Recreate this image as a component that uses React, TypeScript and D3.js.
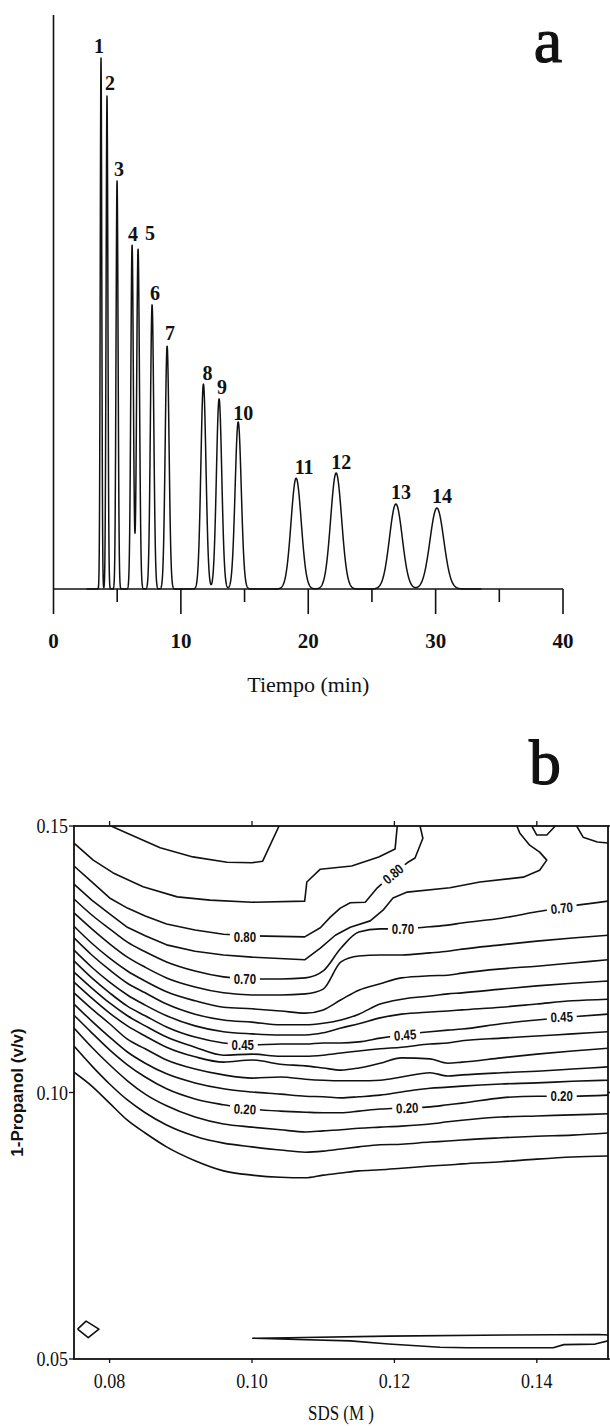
import React from "react";
import * as d3 from "d3";

const WIDTH = 610;
const HEIGHT = 1426;

// ---------- Panel a: chromatogram ----------
const peakIds = ["1", "2", "3", "4", "5", "6", "7", "8", "9", "10", "11", "12", "13", "14"];
const retentionMin = [3.73, 4.2, 4.99, 6.17, 6.64, 7.74, 8.92, 11.77, 13.0, 14.5, 19.05, 22.19, 26.88, 30.1];
const peakHeight = [92.5, 85.9, 71.1, 59.9, 59.2, 49.5, 42.3, 35.7, 33.1, 29.1, 19.3, 20.2, 14.8, 14.1];
const peakSigmaMin = [0.06, 0.07, 0.08, 0.1, 0.11, 0.13, 0.15, 0.2, 0.21, 0.24, 0.4, 0.43, 0.5, 0.54];
const timeMajorTicks = [0, 10, 20, 30, 40];
const timeMinorTicks = [5, 15, 25, 35];

// label nudges (px) from each apex
const peakLabelDx = [-2, 3, 2, 1, 12, 3, 3, 4, 3, 5, 8, 5, 5, 5];
const peakLabelDy = [5, 6, 5, 4, 9, 5, 6, 4, 5, 2, 4, 4, 5, 5];

// ---------- Panel b: resolution contour map ----------
const sdsTicks = [0.08, 0.1, 0.12, 0.14];
const propanolTicks = [0.05, 0.1, 0.15];

// SDS positions shared by the iso-lines that run across the whole map
const sdsGrid = [0.075, 0.0775, 0.08, 0.0825, 0.085, 0.088, 0.092, 0.096, 0.1, 0.104, 0.1075, 0.11, 0.1125, 0.115, 0.118, 0.121, 0.125, 0.1275, 0.1295, 0.135, 0.14, 0.145, 0.15];

// propanol (v/v) of each iso-line at the sdsGrid positions
const iso070 = [0.1363, 0.1333, 0.1307, 0.1282, 0.1264, 0.1245, 0.1228, 0.1217, 0.1213, 0.1213, 0.1215, 0.1228, 0.1271, 0.1301, 0.1307, 0.1307, 0.1311, 0.1314, 0.1318, 0.1327, 0.1339, 0.135, 0.1359];
const iso065 = [0.1337, 0.1307, 0.1279, 0.1254, 0.1235, 0.1215, 0.1198, 0.1187, 0.1183, 0.1183, 0.1185, 0.1194, 0.1245, 0.1256, 0.1258, 0.1258, 0.1262, 0.1265, 0.1269, 0.1277, 0.1284, 0.129, 0.1295];
const iso060 = [0.1312, 0.128, 0.1252, 0.1228, 0.1209, 0.1189, 0.1172, 0.116, 0.1157, 0.1153, 0.1149, 0.1155, 0.1174, 0.1192, 0.1204, 0.1215, 0.1219, 0.122, 0.1224, 0.1232, 0.1237, 0.1243, 0.1249];
const iso055 = [0.129, 0.1258, 0.123, 0.1205, 0.1187, 0.1166, 0.1147, 0.1136, 0.1132, 0.1127, 0.1127, 0.113, 0.1136, 0.1147, 0.1166, 0.1175, 0.1181, 0.1185, 0.1187, 0.1194, 0.12, 0.1205, 0.1209];
const iso050 = [0.1267, 0.1235, 0.1207, 0.1183, 0.1164, 0.1144, 0.1125, 0.1114, 0.111, 0.1108, 0.1108, 0.1112, 0.1121, 0.1129, 0.114, 0.1147, 0.1151, 0.1153, 0.1155, 0.116, 0.1166, 0.1172, 0.1175];
const iso045 = [0.1247, 0.1215, 0.1187, 0.1162, 0.1144, 0.1123, 0.1104, 0.1093, 0.1089, 0.1091, 0.1091, 0.1093, 0.1093, 0.1095, 0.1102, 0.1108, 0.1114, 0.1117, 0.1119, 0.1129, 0.1136, 0.1142, 0.1147];
const iso040 = [0.1226, 0.1196, 0.1168, 0.1144, 0.1125, 0.1104, 0.1085, 0.107, 0.1072, 0.1068, 0.1068, 0.107, 0.1074, 0.1078, 0.1082, 0.1085, 0.1091, 0.1093, 0.1097, 0.1102, 0.1106, 0.111, 0.1114];
const iso035 = [0.1207, 0.1177, 0.1149, 0.1125, 0.1106, 0.1085, 0.1067, 0.1057, 0.1061, 0.1053, 0.105, 0.1046, 0.1042, 0.1046, 0.1055, 0.1065, 0.1063, 0.1055, 0.1057, 0.1065, 0.1072, 0.1078, 0.1083];
const iso030 = [0.1187, 0.1157, 0.1129, 0.11, 0.1082, 0.1061, 0.1044, 0.1033, 0.1027, 0.1029, 0.1025, 0.1023, 0.1022, 0.1022, 0.1023, 0.1029, 0.1037, 0.1031, 0.1033, 0.1037, 0.104, 0.1044, 0.1048];
const iso025 = [0.1166, 0.1134, 0.1104, 0.1076, 0.1055, 0.1035, 0.1018, 0.1007, 0.1001, 0.0997, 0.0993, 0.0992, 0.099, 0.0992, 0.0995, 0.1001, 0.1008, 0.101, 0.1012, 0.1016, 0.1018, 0.1021, 0.1023];
const iso020 = [0.1145, 0.1112, 0.108, 0.1052, 0.1029, 0.1007, 0.0988, 0.0977, 0.0969, 0.0965, 0.0963, 0.0962, 0.0962, 0.0965, 0.0969, 0.0971, 0.0973, 0.0977, 0.098, 0.099, 0.0993, 0.0993, 0.0995];
const iso015 = [0.1121, 0.1085, 0.1052, 0.1022, 0.0997, 0.0975, 0.0954, 0.0941, 0.0935, 0.093, 0.0926, 0.0928, 0.093, 0.0933, 0.0935, 0.0937, 0.0941, 0.0945, 0.0948, 0.0954, 0.0956, 0.0958, 0.096];
const iso010 = [0.1087, 0.105, 0.1016, 0.0986, 0.0962, 0.0939, 0.0918, 0.0905, 0.0898, 0.0892, 0.0888, 0.089, 0.0894, 0.0898, 0.0902, 0.0903, 0.0907, 0.0909, 0.0911, 0.0915, 0.0918, 0.092, 0.0924];
const iso005 = [0.1038, 0.1012, 0.098, 0.0948, 0.0924, 0.0898, 0.0872, 0.0853, 0.0845, 0.0841, 0.084, 0.0845, 0.0849, 0.0853, 0.0855, 0.0858, 0.0862, 0.0864, 0.0866, 0.087, 0.0875, 0.0879, 0.0881];

// iso-lines that bend back to the top edge: [SDS, propanol] vertices
const iso090 = [[0.0802, 0.15], [0.0824, 0.1487], [0.0871, 0.1459], [0.0917, 0.1442], [0.0965, 0.1432], [0.1, 0.1431], [0.1015, 0.1434], [0.1038, 0.15]];
const iso085 = [[0.075, 0.1468], [0.0777, 0.1436], [0.0805, 0.1412], [0.0847, 0.1386], [0.0895, 0.1367], [0.0941, 0.1361], [0.1, 0.1357], [0.1074, 0.1359], [0.1077, 0.1395], [0.1096, 0.1419], [0.114, 0.1425], [0.1178, 0.1442], [0.1201, 0.1457], [0.1204, 0.15]];
const iso080 = [[0.075, 0.1425], [0.0775, 0.1395], [0.08, 0.1365], [0.0825, 0.1346], [0.085, 0.1331], [0.088, 0.1316], [0.092, 0.1305], [0.096, 0.1297], [0.1, 0.1294], [0.1074, 0.1292], [0.1096, 0.1309], [0.111, 0.1329], [0.1124, 0.1346], [0.1138, 0.1356], [0.1159, 0.1357], [0.1176, 0.1384], [0.1198, 0.141], [0.1218, 0.1431], [0.1229, 0.144], [0.124, 0.1477], [0.1236, 0.15]];
const iso075 = [[0.075, 0.1391], [0.0775, 0.1361], [0.08, 0.1335], [0.0825, 0.131], [0.085, 0.1294], [0.088, 0.1277], [0.092, 0.1265], [0.096, 0.1258], [0.1, 0.1254], [0.1074, 0.1249], [0.1096, 0.1271], [0.1117, 0.1295], [0.1138, 0.131], [0.1166, 0.1322], [0.1184, 0.1342], [0.1198, 0.1365], [0.1218, 0.1376], [0.1278, 0.1384], [0.132, 0.1395], [0.1381, 0.1404], [0.1404, 0.1417], [0.1414, 0.1436], [0.1404, 0.1451], [0.139, 0.1464], [0.1376, 0.1487], [0.1372, 0.15]];
const iso075Notch = [[0.1393, 0.15], [0.14, 0.1483], [0.1414, 0.1483], [0.1426, 0.15]];
const iso075Corner = [[0.1456, 0.15], [0.1465, 0.1479], [0.1485, 0.147], [0.15, 0.1468]];
const islandLeft = [[0.0755, 0.0556], [0.0767, 0.0571], [0.0785, 0.0556], [0.077, 0.054], [0.0755, 0.0556]];
const islandBottom = [[0.15, 0.0545], [0.1487, 0.0546], [0.1357, 0.0545], [0.1192, 0.0543], [0.1051, 0.054], [0.1001, 0.0539], [0.1051, 0.0537], [0.1138, 0.0534], [0.1192, 0.0528], [0.1264, 0.0522], [0.1302, 0.0521], [0.1423, 0.0521], [0.1438, 0.0527], [0.1482, 0.0528], [0.15, 0.0534]];

// in-line level labels
const labelLevel = [0.8, 0.8, 0.7, 0.7, 0.7, 0.45, 0.45, 0.45, 0.2, 0.2, 0.2];
const labelSds = [0.099, 0.1198, 0.099, 0.1212, 0.1435, 0.0987, 0.1215, 0.1435, 0.099, 0.1218, 0.1435];
const labelPropanol = [0.1292, 0.141, 0.1213, 0.1307, 0.1346, 0.1089, 0.1108, 0.1142, 0.0969, 0.0971, 0.0993];
const labelAngle = [0, -40, 0, 0, -6, 0, -4, -2, 3, -3, 0];

const SERIF = "'Liberation Serif', 'Times New Roman', serif";
const SANS = "'Liberation Sans', Arial, sans-serif";

export default function App() {
  // ----- panel a scales -----
  const xA = d3.scaleLinear().domain([0, 40]).range([53.5, 563]);
  const yA = d3.scaleLinear().domain([0, 100]).range([589, 15]);

  const traceTimes = d3.range(2.6, 33.6, 0.01);
  const trace: [number, number][] = traceTimes.map((t) => [
    t,
    d3.sum(retentionMin, (tr, i) => peakHeight[i] * Math.exp(-0.5 * ((t - tr) / peakSigmaMin[i]) ** 2)),
  ]);
  const tracePath = d3
    .line<[number, number]>()
    .x((d) => xA(d[0]))
    .y((d) => yA(d[1]))(trace) as string;

  // ----- panel b scales -----
  const xB = d3.scaleLinear().domain([0.075, 0.15]).range([74, 608]);
  const yB = d3.scaleLinear().domain([0.05, 0.15]).range([1359, 826]);

  const gridLines = [iso070, iso065, iso060, iso055, iso050, iso045, iso040, iso035, iso030, iso025, iso020, iso015, iso010, iso005];
  const gridLine = d3
    .line<number>()
    .x((_, i) => xB(sdsGrid[i]))
    .y((d) => yB(d))
    .curve(d3.curveMonotoneX);
  const freeLine = d3
    .line<number[]>()
    .x((d) => xB(d[0]))
    .y((d) => yB(d[1]))
    .curve(d3.curveLinear);
  const freeLines = [iso090, iso085, iso080, iso075, iso075Notch, iso075Corner, islandLeft, islandBottom];

  const [bx0, bx1] = xB.range();
  const [by0, by1] = yB.range();

  return (
    <div style={{ position: "absolute", left: 0, top: 0 }}>
      <svg width={WIDTH} height={HEIGHT} viewBox={`0 0 ${WIDTH} ${HEIGHT}`} style={{ display: "block", background: "#fff" }}>
        <rect x={0} y={0} width={WIDTH} height={HEIGHT} fill="#fff" />

        {/* ================= panel a ================= */}
        <text x={548} y={62} textAnchor="middle" fontFamily={SERIF} fontSize={64} fill="#111" stroke="#111" strokeWidth={1.2}>
          a
        </text>

        {/* axes */}
        <line x1={xA(0)} x2={xA(0)} y1={yA(100)} y2={yA(0)} stroke="#111" strokeWidth={1.6} />
        <line x1={xA(0)} x2={xA(40)} y1={yA(0)} y2={yA(0)} stroke="#111" strokeWidth={1.6} />
        {timeMajorTicks.map((t) => (
          <line key={"M" + t} x1={xA(t)} x2={xA(t)} y1={yA(0)} y2={yA(0) + 25} stroke="#111" strokeWidth={1.6} />
        ))}
        {timeMinorTicks.map((t) => (
          <line key={"m" + t} x1={xA(t)} x2={xA(t)} y1={yA(0)} y2={yA(0) + 13} stroke="#111" strokeWidth={1.6} />
        ))}
        {timeMajorTicks.map((t) => (
          <text key={"L" + t} x={xA(t)} y={648} textAnchor="middle" fontFamily={SERIF} fontWeight="bold" fontSize={21} fill="#111">
            {t}
          </text>
        ))}
        <text x={(xA(0) + xA(40)) / 2} y={692} textAnchor="middle" fontFamily={SERIF} fontSize={22} fill="#111">
          Tiempo (min)
        </text>

        {/* signal */}
        <path d={tracePath} fill="none" stroke="#111" strokeWidth={1.5} strokeLinejoin="round" />
        {peakIds.map((id, i) => (
          <text
            key={"p" + id}
            x={xA(retentionMin[i]) + peakLabelDx[i]}
            y={yA(peakHeight[i]) - peakLabelDy[i]}
            textAnchor="middle"
            fontFamily={SERIF}
            fontWeight="bold"
            fontSize={20}
            fill="#111"
          >
            {id}
          </text>
        ))}

        {/* ================= panel b ================= */}
        <text x={545} y={784} textAnchor="middle" fontFamily={SERIF} fontSize={64} fill="#111" stroke="#111" strokeWidth={1.2}>
          b
        </text>

        <defs>
          <clipPath id="mapClip">
            <rect x={bx0} y={by1} width={bx1 - bx0} height={by0 - by1} />
          </clipPath>
        </defs>

        <g clipPath="url(#mapClip)" fill="none" stroke="#111" strokeWidth={1.6} strokeLinejoin="round">
          {gridLines.map((vals, i) => (
            <path key={"g" + i} d={gridLine(vals) as string} />
          ))}
          {freeLines.map((pts, i) => (
            <path key={"f" + i} d={freeLine(pts) as string} />
          ))}
        </g>

        {/* level labels */}
        {labelLevel.map((lv, i) => (
          <g key={"lb" + i} transform={`translate(${xB(labelSds[i])},${yB(labelPropanol[i])}) rotate(${labelAngle[i]})`}>
            <rect x={-15} y={-6.5} width={30} height={13} fill="#fff" />
            <text
              transform="scale(0.82,1)"
              y={5}
              textAnchor="middle"
              fontFamily={SANS}
              fontWeight="bold"
              fontSize={14}
              fill="#111"
            >
              {lv.toFixed(2)}
            </text>
          </g>
        ))}

        {/* frame */}
        <rect x={bx0} y={by1} width={bx1 - bx0} height={by0 - by1} fill="none" stroke="#111" strokeWidth={1.8} />
        {sdsTicks.map((s) => (
          <g key={"st" + s}>
            <line x1={xB(s)} x2={xB(s)} y1={by1} y2={by1 - 5} stroke="#111" strokeWidth={1.3} />
            <line x1={xB(s)} x2={xB(s)} y1={by0} y2={by0 + 4} stroke="#111" strokeWidth={1.3} />
            <text transform={`translate(${xB(s)},1388) scale(0.9,1)`} textAnchor="middle" fontFamily={SERIF} fontSize={20} fill="#111">
              {s.toFixed(2)}
            </text>
          </g>
        ))}
        {propanolTicks.map((p) => (
          <g key={"pt" + p}>
            <line x1={bx0} x2={bx0 - 5} y1={yB(p)} y2={yB(p)} stroke="#111" strokeWidth={1.3} />
            <line x1={bx1} x2={bx1 + 3} y1={yB(p)} y2={yB(p)} stroke="#111" strokeWidth={1.3} />
            <text transform={`translate(68,${yB(p) + 7}) scale(0.9,1)`} textAnchor="end" fontFamily={SERIF} fontSize={20} fill="#111">
              {p.toFixed(2)}
            </text>
          </g>
        ))}
        <text transform={`translate(${(bx0 + bx1) / 2},1420) scale(0.85,1)`} textAnchor="middle" fontFamily={SERIF} fontSize={20} fill="#111">
          SDS (M )
        </text>
        <text transform={`translate(23,${(by0 + by1) / 2}) rotate(-90)`} textAnchor="middle" fontFamily={SANS} fontWeight="bold" fontSize={17} fill="#111">
          1-Propanol (v/v)
        </text>
      </svg>
    </div>
  );
}
